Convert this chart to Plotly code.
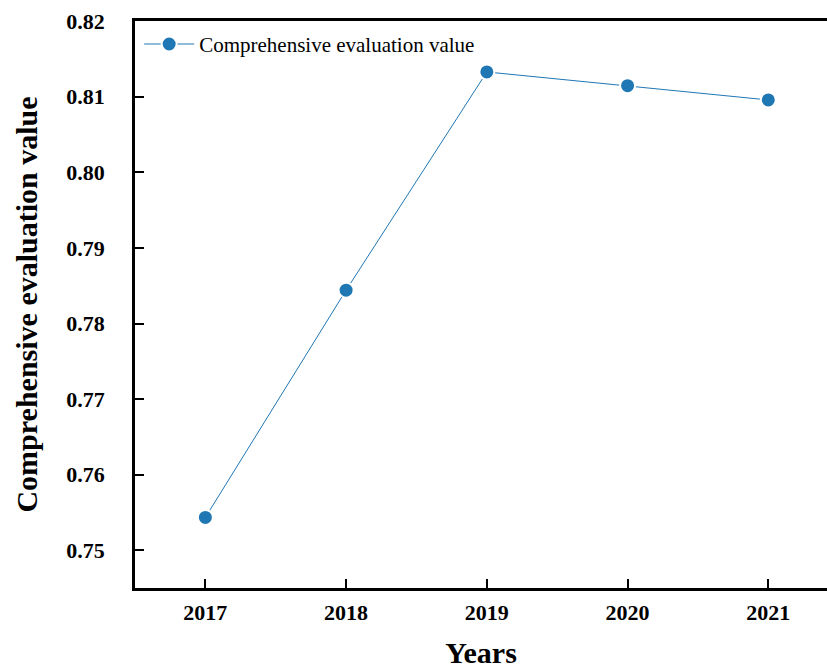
import plotly.graph_objects as go

years = [2017, 2018, 2019, 2020, 2021]
values = [0.75436, 0.78441, 0.81326, 0.81145, 0.80956]
y_ticks = [0.75, 0.76, 0.77, 0.78, 0.79, 0.80, 0.81, 0.82]
y_tick_text = ["0.75", "0.76", "0.77", "0.78", "0.79", "0.80", "0.81", "0.82"]

FONT = "Liberation Serif"
BLUE = "#1f77b4"

fig = go.Figure()
fig.add_trace(go.Scatter(
    x=years, y=values, mode="lines+markers",
    name="Comprehensive evaluation value",
    line=dict(color=BLUE, width=1),
    marker=dict(color=BLUE, size=15, line=dict(color="white", width=2)),
))

fig.update_layout(
    width=827, height=669,
    margin=dict(l=135, r=0, t=21, b=81),
    paper_bgcolor="white", plot_bgcolor="white",
    font=dict(family=FONT, color="black"),
    showlegend=True,
    legend=dict(x=0.006, y=0.995, xanchor="left", yanchor="top", itemwidth=50,
                bgcolor="rgba(0,0,0,0)", font=dict(size=21, family=FONT)),
    xaxis=dict(
        range=[2016.5, 2021.417], tickvals=years, ticktext=[str(y) for y in years],
        showgrid=False, zeroline=False,
        showline=True, linecolor="black", linewidth=2.5, mirror=True,
        ticks="inside", ticklen=9, tickwidth=2, tickcolor="black",
        tickfont=dict(size=22, family=FONT, weight="bold"),
        ticklabelstandoff=3,
        title=dict(text="<b>Years</b>", font=dict(size=30, family=FONT), standoff=22),
    ),
    yaxis=dict(
        range=[0.74503, 0.82], tickvals=y_ticks, ticktext=y_tick_text,
        showgrid=False, zeroline=False,
        showline=True, linecolor="black", linewidth=2.5,
        ticks="inside", ticklen=9, tickwidth=2, tickcolor="black",
        tickfont=dict(size=22, family=FONT, weight="bold"),
        ticklabelstandoff=23,
        title=dict(text="<b>Comprehensive evaluation value</b>", font=dict(size=30, family=FONT), standoff=20),
    ),
)

fig.write_html("out.html")
